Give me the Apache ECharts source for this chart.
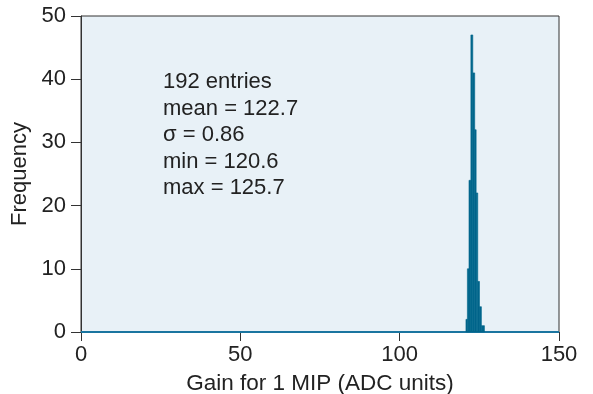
<!DOCTYPE html>
<html>
<head>
<meta charset="utf-8">
<script src="https://cdn.jsdelivr.net/npm/echarts@6/dist/echarts.min.js"></script>
<style>
  html, body { margin: 0; padding: 0; background: #fff; }
  #chart { width: 593px; height: 394px; }
</style>
</head>
<body>
<div id="chart"></div>
<script>
// histogram bins (ADC units) and counts
const binEdges = [120.8, 121.25, 121.75, 122.35, 122.95, 123.55, 124.0, 124.5, 125.05, 125.65, 126.6];
const binCounts = [2, 10, 24, 47, 41, 32, 22, 8, 4, 1];
const xTicks = [0, 50, 100, 150];
const yTicks = [0, 10, 20, 30, 40, 50];
const statsLines = ['192 entries', 'mean = 122.7', 'σ = 0.86', 'min = 120.6', 'max = 125.7'];

const FONT = '"Liberation Sans", Arial, Helvetica, sans-serif';
const TEXT = '#222';
const BAR = '#00668c';

const histData = binCounts.map((c, i) => [binEdges[i], binEdges[i + 1], c]);

const chart = echarts.init(document.getElementById('chart'));

chart.setOption({
    animation: false,
    grid: {
        left: 81,
        right: 34,
        top: 16,
        bottom: 62,
        containLabel: false,
        outerBoundsMode: 'none',
        show: true,
        backgroundColor: '#e8f1f7',
        borderColor: '#333',
        borderWidth: 1
    },
    xAxis: {
        type: 'value',
        min: xTicks[0],
        max: xTicks[xTicks.length - 1],
        interval: 50,
        name: 'Gain for 1 MIP (ADC units)',
        nameLocation: 'middle',
        nameGap: 40,
        nameTextStyle: { fontFamily: FONT, fontSize: 22.5, color: TEXT },
        axisLine: { onZero: false, lineStyle: { color: '#333', width: 1 } },
        axisTick: { show: true, length: 9, lineStyle: { color: '#333' } },
        axisLabel: { fontFamily: FONT, fontSize: 22, color: TEXT, margin: 12 },
        splitLine: { show: false }
    },
    yAxis: {
        type: 'value',
        min: yTicks[0],
        max: yTicks[yTicks.length - 1],
        interval: 10,
        name: 'Frequency',
        nameLocation: 'middle',
        nameGap: 50,
        nameTextStyle: { fontFamily: FONT, fontSize: 22, color: TEXT },
        axisLine: { show: true, lineStyle: { color: '#333', width: 1 } },
        axisTick: { show: true, length: 10, lineStyle: { color: '#333' } },
        axisLabel: { fontFamily: FONT, fontSize: 22, color: TEXT, margin: 15 },
        splitLine: { show: false }
    },
    graphic: [{
        type: 'text',
        left: 163,
        top: 69,
        style: {
            text: statsLines.join('\n'),
            fontFamily: FONT,
            fontSize: 22,
            lineHeight: 26.5,
            fill: TEXT
        }
    }],
    series: [
        {
            // zero-count baseline of the histogram
            type: 'line',
            data: [[xTicks[0], 0], [xTicks[xTicks.length - 1], 0]],
            symbol: 'none',
            lineStyle: { color: '#1a75a0', width: 2 },
            z: 3
        },
        {
            type: 'custom',
            data: histData,
            renderItem: (params, api) => {
                const p0 = api.coord([api.value(0), api.value(2)]);
                const p1 = api.coord([api.value(1), 0]);
                return {
                    type: 'rect',
                    shape: { x: p0[0], y: p0[1], width: p1[0] - p0[0], height: p1[1] - p0[1] },
                    style: { fill: BAR, stroke: BAR, lineWidth: 0.6 }
                };
            },
            z: 4
        }
    ]
});
</script>
</body>
</html>
